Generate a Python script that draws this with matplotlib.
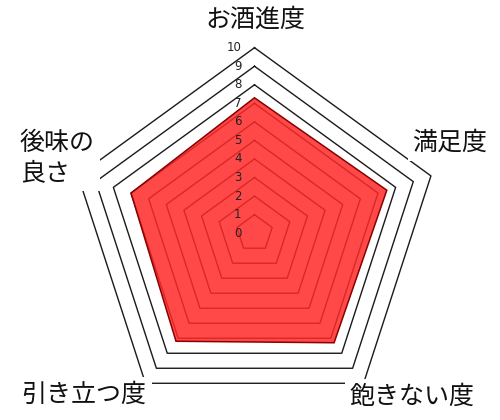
import numpy as np
import matplotlib
matplotlib.use('Agg')
import matplotlib.pyplot as plt

plt.rcParams['font.family'] = ['Noto Sans CJK JP', 'DejaVu Sans']

# data
categories = ['お酒進度', '満足度', '飽きない度', '引き立つ度', '後味の良さ']
values = [7.3, 7.5, 7.3, 7.2, 7.0]
ticks = list(range(0, 11))

W, H, DPI = 500, 420, 100
cx, cy, unit = 254.5, 233.2, 18.55   # pixel centre and pixels per unit

fig = plt.figure(figsize=(W / DPI, H / DPI), dpi=DPI)
ax = fig.add_axes([0, 0, 1, 1])
ax.set_xlim(-cx / unit, (W - cx) / unit)
ax.set_ylim(-(H - cy) / unit, cy / unit)
ax.axis('off')

n = len(categories)
angles = np.pi / 2 - np.arange(n) * 2 * np.pi / n
ca, sa = np.cos(angles), np.sin(angles)

# pentagon grid
for r in ticks[1:]:
    ax.plot(np.append(r * ca, r * ca[0]), np.append(r * sa, r * sa[0]),
            color='#1a1a1a', lw=1.0, zorder=1)

# data polygon
v = np.array(values)
ax.fill(v * ca, v * sa, facecolor=(1, 0.16, 0.16, 0.85), edgecolor='#8b0000',
        lw=1.1, zorder=2)

# tick labels
for t in ticks:
    ax.text(-0.7, t, str(t), ha='right', va='center', fontsize=8.5,
            color='#222222', family='DejaVu Sans', zorder=3)

# category labels
box = dict(facecolor='white', edgecolor='none', boxstyle='square,pad=0.2')
label_pos = [(255, 20, 'center'), (450, 143, 'center'), (412, 397, 'center'),
             (84, 395, 'center'), (20, 158, 'left')]
for name, (px, py, ha) in zip(categories, label_pos):
    txt = '後味の\n良さ' if name == '後味の良さ' else name
    fig.text(px / W, 1 - py / H, txt, ha=ha, va='center', fontsize=18,
             color='#111111', bbox=box, zorder=5, linespacing=1.2)

fig.savefig('out.png', dpi=DPI)
